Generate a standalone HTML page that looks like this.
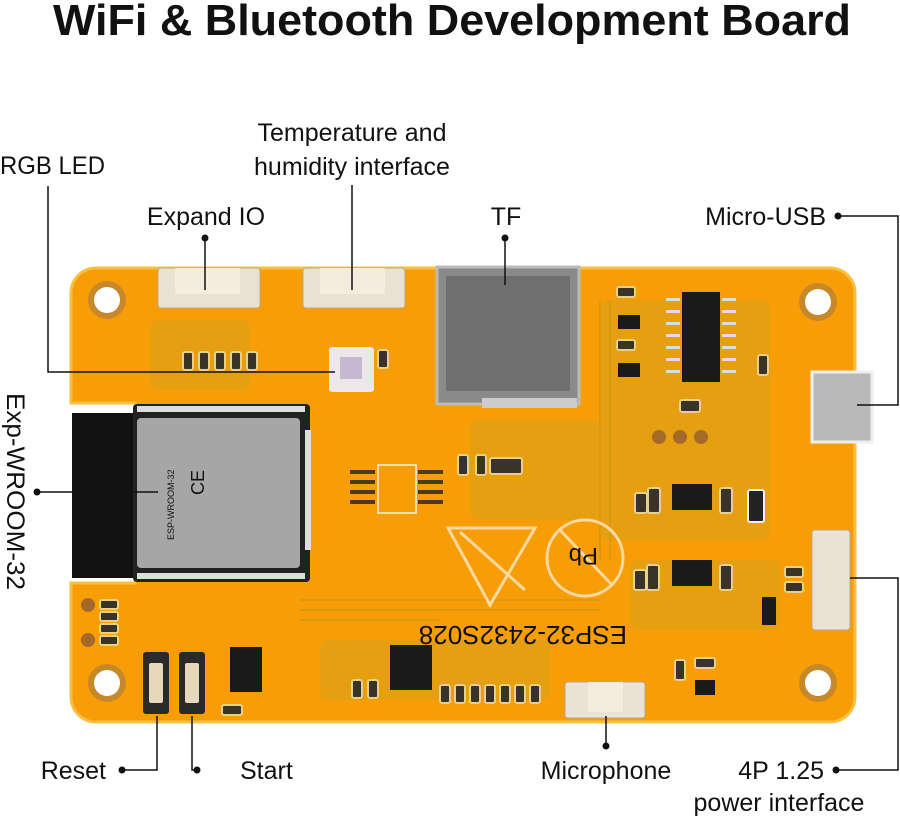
<!DOCTYPE html>
<html><head><meta charset="utf-8"><style>
html,body{margin:0;padding:0;background:#fff;}
svg{display:block;}
text{font-family:"Liberation Sans",sans-serif;fill:#111;}
</style></head><body>
<svg width="900" height="819" viewBox="0 0 900 819" xmlns="http://www.w3.org/2000/svg">
<text x="452" y="35" font-size="44" font-weight="bold" text-anchor="middle" textLength="798" lengthAdjust="spacingAndGlyphs">WiFi &amp; Bluetooth Development Board</text>

<!-- board -->
<path d="M96,268 H830 a25,25 0 0 1 25,25 V697 a25,25 0 0 1 -25,25 H96 a25,25 0 0 1 -25,-25 V583 H135 V403 H71 V293 a25,25 0 0 1 25,-25 Z" fill="#f79d08"/>
<path d="M96,268 H830 a25,25 0 0 1 25,25 V697 a25,25 0 0 1 -25,25 H96 a25,25 0 0 1 -25,-25 V583 H135 V403 H71 V293 a25,25 0 0 1 25,-25 Z" fill="none" stroke="#f9c040" stroke-width="3"/>
<g fill="#d7a11a" opacity="0.55">
<rect x="150" y="320" width="100" height="70" rx="8"/>
<rect x="470" y="420" width="130" height="100" rx="10"/>
<rect x="600" y="300" width="170" height="240" rx="10"/>
<rect x="630" y="560" width="150" height="70" rx="8"/>
<rect x="320" y="640" width="230" height="60" rx="8"/>
</g>
<g stroke="#d99a10" stroke-width="2" fill="none">
<path d="M300,600 H600"/><path d="M300,610 H600"/><path d="M300,620 H440"/>
<path d="M600,300 V560"/><path d="M610,300 V560"/>
</g>
<g>
<circle cx="107" cy="300" r="19" fill="#c7882a"/><circle cx="107" cy="300" r="13" fill="#fff"/>
<circle cx="818" cy="302" r="19" fill="#c7882a"/><circle cx="818" cy="302" r="13" fill="#fff"/>
<circle cx="107" cy="683" r="19" fill="#c7882a"/><circle cx="107" cy="683" r="13" fill="#fff"/>
<circle cx="818" cy="683" r="19" fill="#c7882a"/><circle cx="818" cy="683" r="13" fill="#fff"/>
</g>
<rect x="158" y="268" width="102" height="40" rx="3" fill="#ebe2d3" stroke="#b8a890"/>
<rect x="175" y="268" width="65" height="26" fill="#f4ecdf"/>
<rect x="303" y="268" width="102" height="40" rx="3" fill="#ebe2d3" stroke="#b8a890"/>
<rect x="320" y="268" width="65" height="26" fill="#f4ecdf"/>
<g fill="#3a3328" stroke="#e6d08a" stroke-width="2">
<rect x="183" y="352" width="10" height="18" rx="2"/><rect x="199" y="352" width="10" height="18" rx="2"/>
<rect x="215" y="352" width="10" height="18" rx="2"/><rect x="231" y="352" width="10" height="18" rx="2"/>
<rect x="247" y="352" width="10" height="18" rx="2"/>
<rect x="378" y="350" width="10" height="18" rx="2"/>
</g>
<rect x="329" y="347" width="45" height="45" rx="3" fill="#ece8ea"/>
<rect x="340" y="357" width="22" height="22" fill="#c7b8d2"/>
<rect x="437" y="267" width="142" height="137" fill="#8a8a8a" stroke="#bbb" stroke-width="3"/>
<rect x="446" y="276" width="124" height="115" fill="#6f6f6f"/>
<rect x="482" y="398" width="95" height="10" fill="#ccc"/>
<rect x="72" y="413" width="70" height="165" fill="#111"/>
<rect x="133" y="404" width="177" height="178" rx="4" fill="#222"/>
<g fill="#ddd">
<rect x="137" y="406" width="168" height="6"/><rect x="137" y="573" width="168" height="6"/>
<rect x="305" y="430" width="6" height="120"/>
</g>
<rect x="137" y="418" width="163" height="150" rx="4" fill="#a6a6a6"/>
<text x="0" y="0" font-size="9" fill="#555" transform="translate(174,540) rotate(-90)">ESP-WROOM-32</text>
<text x="0" y="0" font-size="18" fill="#555" transform="translate(204,495) rotate(-90)">CE</text>
<rect x="378" y="465" width="38" height="48" fill="none" stroke="#eee" stroke-width="1.5"/>
<g fill="#4a3a20"><rect x="350" y="470" width="25" height="4"/><rect x="350" y="480" width="25" height="4"/><rect x="350" y="490" width="25" height="4"/><rect x="350" y="500" width="25" height="4"/>
<rect x="418" y="470" width="25" height="4"/><rect x="418" y="480" width="25" height="4"/><rect x="418" y="490" width="25" height="4"/><rect x="418" y="500" width="25" height="4"/></g>
<g fill="#3a3328" stroke="#e6d08a" stroke-width="2">
<rect x="458" y="455" width="10" height="20" rx="2"/><rect x="476" y="455" width="10" height="20" rx="2"/>
<rect x="490" y="458" width="32" height="16" rx="2"/>
<rect x="648" y="488" width="12" height="25" rx="2"/><rect x="635" y="493" width="12" height="20" rx="2"/>
<rect x="720" y="488" width="12" height="25" rx="2"/>
<rect x="647" y="565" width="12" height="25" rx="2"/><rect x="634" y="570" width="12" height="20" rx="2"/>
<rect x="720" y="565" width="12" height="25" rx="2"/>
<rect x="785" y="567" width="18" height="10" rx="2"/><rect x="785" y="582" width="18" height="10" rx="2"/>
<rect x="617" y="287" width="18" height="10" rx="2"/><rect x="617" y="340" width="18" height="10" rx="2"/>
<rect x="758" y="355" width="10" height="20" rx="2"/>
<rect x="680" y="400" width="20" height="12" rx="2"/>
<rect x="675" y="660" width="10" height="20" rx="2"/><rect x="695" y="658" width="20" height="10" rx="2"/>
<rect x="100" y="600" width="18" height="9" rx="2"/><rect x="100" y="612" width="18" height="9" rx="2"/><rect x="100" y="624" width="18" height="9" rx="2"/><rect x="100" y="636" width="18" height="9" rx="2"/>
<rect x="352" y="680" width="10" height="18" rx="2"/><rect x="368" y="680" width="10" height="18" rx="2"/>
<rect x="440" y="685" width="10" height="18" rx="2"/><rect x="455" y="685" width="10" height="18" rx="2"/><rect x="470" y="685" width="10" height="18" rx="2"/><rect x="485" y="685" width="10" height="18" rx="2"/><rect x="500" y="685" width="10" height="18" rx="2"/><rect x="515" y="685" width="10" height="18" rx="2"/><rect x="530" y="685" width="10" height="18" rx="2"/>
<rect x="222" y="705" width="20" height="10" rx="2"/>
</g>
<rect x="748" y="490" width="16" height="32" rx="2" fill="#222" stroke="#eee" stroke-width="2"/>
<g fill="#a36a2a"><circle cx="659" cy="437" r="7"/><circle cx="680" cy="437" r="7"/><circle cx="701" cy="437" r="7"/><circle cx="88" cy="605" r="7"/><circle cx="88" cy="640" r="7"/></g>
<rect x="682" y="292" width="38" height="90" fill="#1a1a1a"/>
<g fill="#ddd"><rect x="666" y="298" width="14" height="3"/><rect x="666" y="310" width="14" height="3"/><rect x="666" y="322" width="14" height="3"/><rect x="666" y="334" width="14" height="3"/><rect x="666" y="346" width="14" height="3"/><rect x="666" y="358" width="14" height="3"/><rect x="666" y="370" width="14" height="3"/>
<rect x="722" y="298" width="14" height="3"/><rect x="722" y="310" width="14" height="3"/><rect x="722" y="322" width="14" height="3"/><rect x="722" y="334" width="14" height="3"/><rect x="722" y="346" width="14" height="3"/><rect x="722" y="358" width="14" height="3"/><rect x="722" y="370" width="14" height="3"/></g>
<rect x="618" y="315" width="22" height="14" fill="#1a1a1a"/><rect x="618" y="363" width="22" height="14" fill="#1a1a1a"/>
<rect x="672" y="484" width="40" height="26" fill="#1a1a1a"/><rect x="672" y="560" width="40" height="26" fill="#1a1a1a"/>
<rect x="762" y="597" width="14" height="28" fill="#1a1a1a"/>
<rect x="695" y="680" width="20" height="15" fill="#1a1a1a"/>
<rect x="230" y="647" width="32" height="45" fill="#1a1a1a"/>
<rect x="390" y="645" width="42" height="45" fill="#1a1a1a"/>
<rect x="812" y="372" width="60" height="70" fill="#b9b9b9" stroke="#eee" stroke-width="3"/>
<rect x="812" y="530" width="38" height="100" rx="3" fill="#ebe2d3" stroke="#b8a890"/>
<rect x="565" y="682" width="80" height="36" rx="3" fill="#ebe2d3" stroke="#b8a890"/>
<rect x="588" y="682" width="35" height="30" fill="#f4ecdf"/>
<rect x="143" y="652" width="26" height="62" rx="3" fill="#2a2a2a"/><rect x="149" y="663" width="14" height="40" rx="2" fill="#e8d8bb"/>
<rect x="179" y="652" width="26" height="62" rx="3" fill="#2a2a2a"/><rect x="185" y="663" width="14" height="40" rx="2" fill="#e8d8bb"/>
<path d="M448,528 L535,528 L490,605 Z" fill="none" stroke="#fbd9a0" stroke-width="3"/>
<path d="M460,532 L525,590" stroke="#fbd9a0" stroke-width="3"/>
<circle cx="585" cy="558" r="38" fill="none" stroke="#fbd9a0" stroke-width="3"/>
<path d="M560,530 L612,585" stroke="#fbd9a0" stroke-width="3"/>
<text x="0" y="0" font-size="24" fill="#fbd9a0" font-family="Liberation Serif,serif" transform="translate(598,548) rotate(180)">Pb</text>
<text x="0" y="0" font-size="26" fill="#8a2a10" font-family="Liberation Serif,serif" transform="translate(627,626) rotate(180)">ESP32-2432S028</text>

<g stroke="#111" stroke-width="1.5" fill="none">
<path d="M48,186 V372 H335"/>
<path d="M205,238 V290"/>
<path d="M352,185 V290"/>
<path d="M505,238 V285"/>
<path d="M838,216 H898 V405 H857"/>
<path d="M37,492 H158"/>
<path d="M122,770 H157 V716"/>
<path d="M197,770 H192 V716"/>
<path d="M606,746 V716"/>
<path d="M836,770 H898 V578 H850"/>
</g>
<g fill="#111">
<circle cx="205" cy="238" r="3.5"/><circle cx="505" cy="238" r="3.5"/><circle cx="838" cy="216" r="3.5"/>
<circle cx="37" cy="492" r="3.5"/><circle cx="122" cy="770" r="3.5"/><circle cx="197" cy="770" r="3.5"/>
<circle cx="606" cy="746" r="3.5"/><circle cx="836" cy="770" r="3.5"/>
</g>
<g font-size="25">
<text x="0" y="174" textLength="105" lengthAdjust="spacingAndGlyphs">RGB LED</text>
<text x="352" y="141" text-anchor="middle">Temperature and</text>
<text x="352" y="175" text-anchor="middle">humidity interface</text>
<text x="206" y="225" text-anchor="middle">Expand IO</text>
<text x="506" y="225" text-anchor="middle">TF</text>
<text x="826" y="225" text-anchor="end">Micro-USB</text>
<text x="0" y="0" transform="translate(7,393) rotate(90)" textLength="197" lengthAdjust="spacingAndGlyphs">Exp-WROOM-32</text>
<text x="106" y="779" text-anchor="end">Reset</text>
<text x="240" y="779">Start</text>
<text x="606" y="779" text-anchor="middle">Microphone</text>
<text x="824" y="779" text-anchor="end">4P 1.25</text>
<text x="779" y="811" text-anchor="middle">power interface</text>
</g>
</svg>
</body></html>
